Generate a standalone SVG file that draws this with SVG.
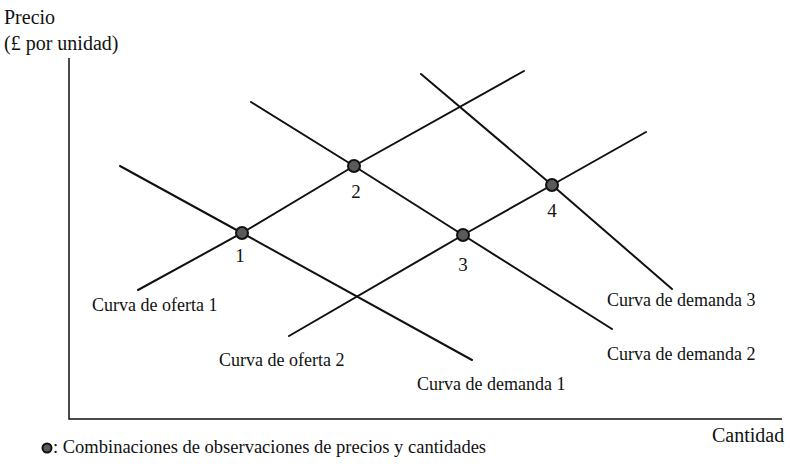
<svg xmlns="http://www.w3.org/2000/svg" width="790" height="464" viewBox="0 0 790 464">
<style>
text{font-family:"Liberation Serif","Times New Roman",serif;fill:#111}
.ax{font-size:20px}
.lb{font-size:18px}
.num{font-size:19px;text-anchor:middle}
.lg{font-size:18.5px}
.ln{stroke:#111;stroke-width:2;fill:none;stroke-linecap:round}
.axis{stroke:#111;stroke-width:1.5;fill:none}
.pt{fill:#5a5a5a;stroke:#111;stroke-width:2}
</style>
<rect width="790" height="464" fill="#fff"/>
<g id="axes">
<path class="axis" d="M69,58 V419 H782"/>
<text class="ax" x="4" y="24">Precio</text>
<text class="ax" x="4" y="50">(£ por unidad)</text>
<text class="ax" x="712" y="442">Cantidad</text>
</g>
<g id="connectors">
<path class="ln" d="M120,166 L242,233 L472,360"/>
<path class="ln" d="M138,290 L242,233 L354,166 L524,71"/>
<path class="ln" d="M251,102 L354,166 L463,235 L612,329"/>
<path class="ln" d="M421,74 L552,185 L672,289"/>
<path class="ln" d="M289,336 L463,235 L552,185 L646,132"/>
</g>
<g id="p1"><circle class="pt" cx="242" cy="233" r="6"/><text class="num" x="240" y="262">1</text></g>
<g id="p2"><circle class="pt" cx="354" cy="166" r="6"/><text class="num" x="356" y="198">2</text></g>
<g id="p3"><circle class="pt" cx="463" cy="235" r="6"/><text class="num" x="463" y="271">3</text></g>
<g id="p4"><circle class="pt" cx="552" cy="185" r="6"/><text class="num" x="552" y="217">4</text></g>
<g id="s1"><text class="lb" x="92" y="311">Curva de oferta 1</text></g>
<g id="s2"><text class="lb" x="219" y="366">Curva de oferta 2</text></g>
<g id="d1"><text class="lb" x="417" y="390">Curva de demanda 1</text></g>
<g id="d2"><text class="lb" x="607" y="360">Curva de demanda 2</text></g>
<g id="d3"><text class="lb" x="607" y="306">Curva de demanda 3</text></g>
<g id="legend">
<circle class="pt" cx="47" cy="448" r="4.5" stroke-width="1.5"/>
<text class="lg" x="53" y="453">: Combinaciones de observaciones de precios y cantidades</text>
</g>
</svg>
